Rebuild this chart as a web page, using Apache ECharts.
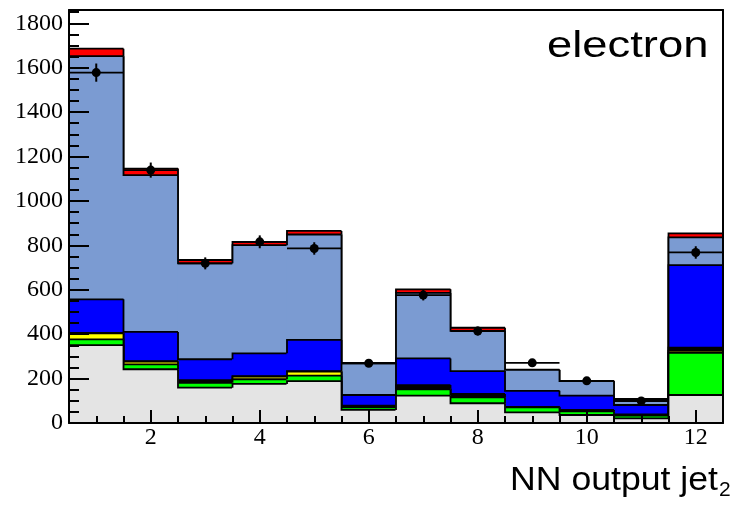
<!DOCTYPE html>
<html><head><meta charset="utf-8">
<script src="https://cdn.jsdelivr.net/npm/echarts@6/dist/echarts.min.js"></script>
<style>html,body{margin:0;padding:0;background:#fff}#c{width:731px;height:506px}</style>
</head><body><div id="c"></div>
<script>
// ---- data ----
const binCenters   = [1, 2, 3, 4, 5, 6, 7, 8, 9, 10, 11, 12];
const grayBg       = [351, 242, 159, 176, 189, 59, 123, 89, 48, 36, 21, 126];
const greenBg      = [26, 22, 22, 21, 24, 12, 29, 27, 23, 17, 12, 190];
const yellowBg     = [27, 12, 2, 12, 18, 0, 2, 0, 0, 0, 0, 9];
const blackBg      = [2, 2, 10, 2, 2, 7, 17, 15, 2, 6, 6, 14];
const blueBg       = [151, 132, 94, 103, 141, 48, 120, 103, 72, 64, 42, 372];
const lightBlueBg  = [1095, 706, 432, 487, 475, 143, 295, 181, 94, 66, 27, 125];
const redBg        = [34, 30, 15, 15, 16, 2, 16, 14, 1, 1, 1, 18];
const dataValues   = [1578, 1139, 719, 816, 786, 269, 576, 414, 271, 190, 99, 768];
const dataErrors   = [41, 34, 27, 29, 28, 16, 24, 20, 16, 14, 10, 28];
const xMajorTicks  = [2, 4, 6, 8, 10, 12];
const xMinorTicks  = [1, 1.5, 2.5, 3, 3.5, 4.5, 5, 5.5, 6.5, 7, 7.5, 8.5, 9, 9.5, 10.5, 11, 11.5, 12];
const yMajorTicks  = [0, 200, 400, 600, 800, 1000, 1200, 1400, 1600, 1800];
const yMinorTicks  = [50, 100, 150, 250, 300, 350, 450, 500, 550, 650, 700, 750, 850, 900, 950, 1050, 1100, 1150, 1250, 1300, 1350, 1450, 1500, 1550, 1650, 1700, 1750, 1850];

const layers = [
  { name: 'gray',      color: '#e4e4e4', vals: grayBg },
  { name: 'green',     color: '#00ff00', vals: greenBg },
  { name: 'yellow',    color: '#ffff00', vals: yellowBg },
  { name: 'black',     color: '#000000', vals: blackBg },
  { name: 'blue',      color: '#0000ff', vals: blueBg },
  { name: 'lightblue', color: '#7b9bd2', vals: lightBlueBg },
  { name: 'red',       color: '#ff0000', vals: redBg }
];

// cumulative stacks
const cum = [];
layers.forEach((l, k) => {
  cum.push(l.vals.map((v, i) => v + (k > 0 ? cum[k - 1][i] : 0)));
});

function stepRender(color) {
  return function (params, api) {
    const x = api.value(0), top = api.value(1), prev = api.value(2);
    const p0 = api.coord([x - 0.5, 0]);
    const p1 = api.coord([x + 0.5, top]);
    const pPrev = api.coord([x - 0.5, prev]);
    return {
      type: 'group',
      children: [
        { type: 'rect', shape: { x: p0[0] - 0.5, y: p1[1], width: p1[0] - p0[0] + 1, height: p0[1] - p1[1] },
          style: { fill: color } },
        { type: 'polyline', shape: { points: [pPrev, [p0[0], p1[1]], p1] },
          style: { stroke: '#000', lineWidth: 1.8, fill: null } }
      ]
    };
  };
}

const series = [];
for (let k = layers.length - 1; k >= 0; k--) {
  series.push({
    type: 'custom',
    name: layers[k].name,
    z: 2 + (layers.length - k),
    xAxisIndex: 0, yAxisIndex: 0,
    renderItem: stepRender(layers[k].color),
    data: binCenters.map((x, i) => [x, cum[k][i], i > 0 ? cum[k][i - 1] : 0])
  });
}
series.push({
  type: 'custom',
  name: 'data',
  z: 20,
  xAxisIndex: 0, yAxisIndex: 0,
  renderItem: function (params, api) {
    const x = api.value(0), y = api.value(1), e = api.value(2);
    const c = api.coord([x, y]);
    const l = api.coord([x - 0.5, y]);
    const r = api.coord([x + 0.5, y]);
    const t = api.coord([x, y + e]);
    const b = api.coord([x, y - e]);
    return {
      type: 'group',
      children: [
        { type: 'line', shape: { x1: l[0], y1: l[1], x2: r[0], y2: r[1] }, style: { stroke: '#000', lineWidth: 1.8 } },
        { type: 'line', shape: { x1: t[0], y1: t[1], x2: b[0], y2: b[1] }, style: { stroke: '#000', lineWidth: 2 } },
        { type: 'circle', shape: { cx: c[0], cy: c[1], r: 4.5 }, style: { fill: '#000' } }
      ]
    };
  },
  data: binCenters.map((x, i) => [x, dataValues[i], dataErrors[i]])
});

const lineBlack = { color: '#000', width: 2 };
const labelFont = { fontFamily: 'Liberation Serif', fontSize: 24, color: '#000' };

const option = {
  animation: false,
  backgroundColor: '#fff',
  grid: { left: 69, top: 10, width: 654, height: 413, containLabel: false },
  xAxis: [
    { type: 'value', min: 0.5, max: 12.5, position: 'bottom', z: 50,
      axisLine: { show: true, onZero: false, lineStyle: lineBlack },
      axisTick: { show: true, inside: true, length: 13, customValues: xMajorTicks, lineStyle: lineBlack },
      axisLabel: Object.assign({ customValues: xMajorTicks, margin: 3, formatter: v => String(v) }, labelFont),
      splitLine: { show: false } },
    { type: 'value', min: 0.5, max: 12.5, position: 'bottom', z: 49,
      axisLine: { show: false },
      axisTick: { show: true, inside: true, length: 7, customValues: xMinorTicks, lineStyle: lineBlack },
      axisLabel: { show: false }, splitLine: { show: false } },
    { type: 'value', min: 0.5, max: 12.5, position: 'top', z: 50,
      axisLine: { show: true, onZero: false, lineStyle: lineBlack },
      axisTick: { show: false }, axisLabel: { show: false }, splitLine: { show: false } }
  ],
  yAxis: [
    { type: 'value', min: 0, max: 1860, position: 'left', z: 50,
      axisLine: { show: true, onZero: false, lineStyle: lineBlack },
      axisTick: { show: true, inside: true, length: 20, customValues: yMajorTicks, lineStyle: lineBlack },
      axisLabel: Object.assign({ customValues: yMajorTicks, margin: 6, formatter: v => String(v) }, labelFont),
      splitLine: { show: false } },
    { type: 'value', min: 0, max: 1860, position: 'left', z: 49,
      axisLine: { show: false },
      axisTick: { show: true, inside: true, length: 10, customValues: yMinorTicks, lineStyle: lineBlack },
      axisLabel: { show: false }, splitLine: { show: false } },
    { type: 'value', min: 0, max: 1860, position: 'right', z: 50,
      axisLine: { show: true, onZero: false, lineStyle: lineBlack },
      axisTick: { show: false }, axisLabel: { show: false }, splitLine: { show: false } }
  ],
  graphic: [
    { type: 'text', x: 547, y: 46.8, scaleX: 1.26, z: 100,
      style: { text: 'electron', fontFamily: 'Liberation Sans', fontSize: 36, fill: '#000',
               align: 'left', verticalAlign: 'middle' } },
    { type: 'text', x: 510, y: 480.9, scaleX: 1.08, z: 100,
      style: { text: 'NN output jet', fontFamily: 'Liberation Sans', fontSize: 33, fill: '#000',
               align: 'left', verticalAlign: 'middle' } },
    { type: 'text', x: 719, y: 490.7, z: 100,
      style: { text: '2', fontFamily: 'Liberation Sans', fontSize: 21, fill: '#000',
               align: 'left', verticalAlign: 'middle' } }
  ],
  series: series
};

const chart = echarts.init(document.getElementById('c'), null, { renderer: 'canvas' });
chart.setOption(option);
</script>
</body></html>
